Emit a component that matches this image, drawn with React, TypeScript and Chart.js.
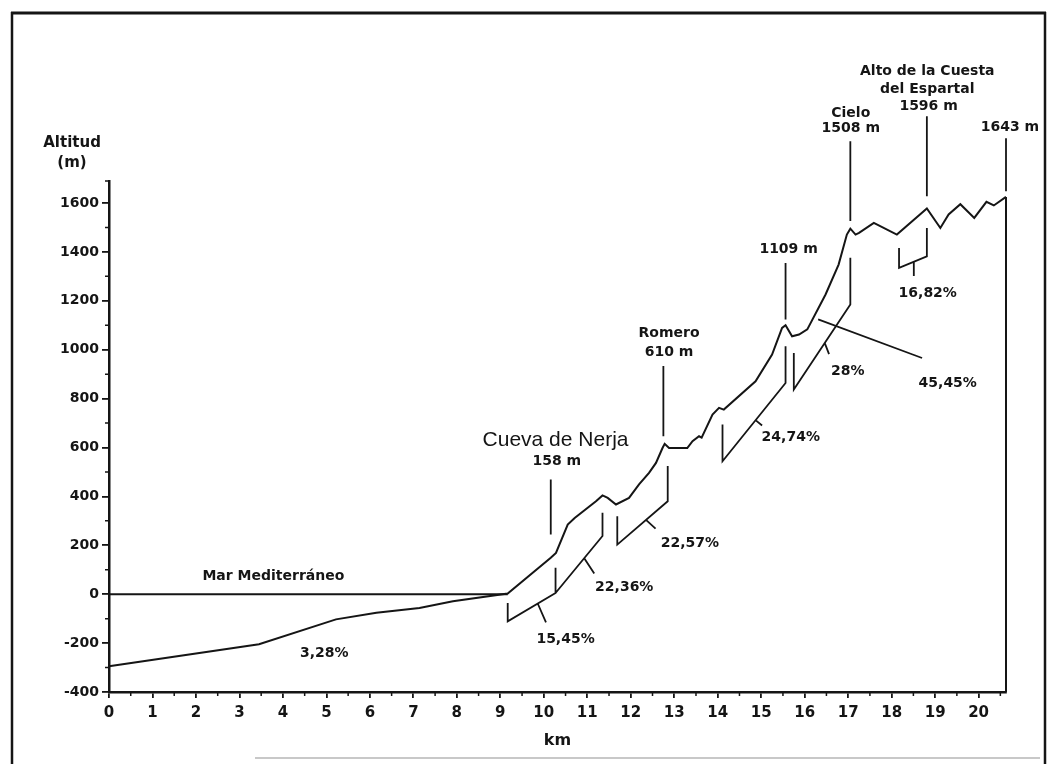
import React, { useEffect, useRef } from 'react';
import { Chart, registerables } from 'chart.js';

Chart.register(...registerables);

// ---- Perfil (km, altitud en m) ----
const profileKm = [0, 3.45, 5.22, 6.15, 7.14, 7.91, 9.17, 10.16, 10.28, 10.55, 10.71, 11.2, 11.35, 11.47, 11.66, 11.96, 12.19, 12.42, 12.58, 12.73, 12.78, 12.88, 13.3, 13.42, 13.57, 13.63, 13.88, 14.03, 14.14, 14.87, 15.25, 15.48, 15.56, 15.71, 15.87, 16.06, 16.48, 16.78, 16.97, 17.05, 17.17, 17.25, 17.59, 18.12, 18.81, 19.12, 19.31, 19.58, 19.9, 20.18, 20.35, 20.63];
const profileAlt = [-295, -205, -103, -76, -56, -29, 3, 149, 169, 285, 312, 380, 404, 394, 367, 394, 449, 496, 537, 598, 615, 598, 598, 626, 646, 640, 735, 762, 755, 871, 980, 1089, 1100, 1055, 1062, 1083, 1226, 1348, 1471, 1495, 1471, 1478, 1519, 1471, 1578, 1498, 1553, 1595, 1539, 1605, 1590, 1625];

// Nivel del mar
const seaKm = [0, 9.17];
const seaAlt = [0, 0];

// Cierre vertical del perfil
const closeKm = [20.63, 20.63];
const closeAlt = [-400, 1625];

// Líneas guía de las cotas (null = corte)
const leaderKm = [10.16, 10.16, null, 12.75, 12.75, null, 15.56, 15.56, null, 17.05, 17.05, null, 18.81, 18.81, null, 20.63, 20.63];
const leaderAlt = [469, 244, null, 933, 646, null, 1355, 1124, null, 1853, 1526, null, 1955, 1628, null, 1865, 1648];

// Corchetes de pendiente (null = corte)
const slopeKm = [9.17, 9.17, 10.27, 10.27, null, 10.27, 11.35, 11.35, null, 9.86, 10.05, null, 10.93, 11.16, null,
  11.69, 11.69, 12.85, 12.85, null, 12.35, 12.57, null,
  14.11, 14.11, 15.56, 15.56, null, 14.87, 15.02, null,
  15.75, 15.75, 17.05, 17.05, null, 16.46, 16.56, null,
  16.31, 18.7, null,
  18.17, 18.17, 18.81, 18.81, null, 18.51, 18.51];
const slopeAlt = [-36, -111, 5, 108, null, 5, 238, 333, null, -38, -115, null, 147, 85, null,
  319, 203, 380, 524, null, 304, 268, null,
  694, 544, 864, 1014, null, 712, 690, null,
  987, 837, 1185, 1376, null, 1028, 982, null,
  1124, 966, null,
  1416, 1335, 1382, 1498, null, 1360, 1301];

// Textos
const labelTexts = ['Mar Mediterráneo', '3,28%', '15,45%', '22,36%', '22,57%', '24,74%', '28%', '45,45%', '16,82%',
  'Cueva de Nerja', '158 m', 'Romero', '610 m', '1109 m', 'Cielo', '1508 m',
  'Alto de la Cuesta', 'del Espartal', '1596 m', '1643 m', 'Altitud', '(m)'];
const labelKm = [3.78, 4.95, 10.5, 11.85, 13.36, 15.68, 16.99, 19.29, 18.83,
  10.27, 10.3, 12.88, 12.88, 15.63, 17.06, 17.06,
  18.82, 18.82, 18.85, 20.72, -0.85, -0.85];
const labelAlt = [72, -243, -186, 28, 206, 641, 910, 861, 1230,
  628, 542, 1065, 988, 1412, 1968, 1907,
  2140, 2066, 1994, 1910, 1845, 1765];

// Ejes
const xMin = 0;
const xMax = 20.63;
const yMin = -400;
const yMax = 1690;
const xMinorTicks = [0.5, 1.5, 2.5, 3.5, 4.5, 5.5, 6.5, 7.5, 8.5, 9.5, 10.5, 11.5, 12.5, 13.5, 14.5, 15.5, 16.5, 17.5, 18.5, 19.5, 20.5];
const yMinorTicks = [-300, -100, 100, 300, 500, 700, 900, 1100, 1300, 1500, 1690];

const toPoints = (xs: (number | null)[], ys: (number | null)[]) => {
  let last = 0;
  return xs.map((x, i) => {
    if (x !== null) last = x;
    return { x: last, y: ys[i] };
  });
};

const INK = '#151515';
const BOLD = 'bold 14px "DejaVu Sans"';

const decorPlugin = {
  id: 'decor',
  beforeDraw(chart: any) {
    const { ctx } = chart;
    ctx.save();
    ctx.fillStyle = '#ffffff';
    ctx.fillRect(0, 0, chart.width, chart.height);
    ctx.strokeStyle = INK;
    ctx.lineWidth = 3;
    ctx.beginPath();
    ctx.moveTo(11, 13);
    ctx.lineTo(1046, 13);
    ctx.stroke();
    ctx.lineWidth = 2.5;
    ctx.beginPath();
    ctx.moveTo(12, 12);
    ctx.lineTo(12, 764);
    ctx.moveTo(1045, 12);
    ctx.lineTo(1045, 764);
    ctx.stroke();
    ctx.strokeStyle = '#c8c8c8';
    ctx.lineWidth = 2;
    ctx.beginPath();
    ctx.moveTo(255, 758);
    ctx.lineTo(1040, 758);
    ctx.stroke();
    ctx.restore();
  },
  afterDraw(chart: any) {
    const { ctx } = chart;
    const xs = chart.scales.x;
    const ys = chart.scales.y;
    ctx.save();
    // minor ticks
    ctx.strokeStyle = INK;
    ctx.lineWidth = 1.5;
    ctx.beginPath();
    const yb = ys.getPixelForValue(yMin);
    xMinorTicks.forEach((v) => {
      const px = xs.getPixelForValue(v);
      ctx.moveTo(px, yb);
      ctx.lineTo(px, yb + 4);
    });
    const xl = xs.getPixelForValue(xMin);
    yMinorTicks.forEach((v) => {
      const py = ys.getPixelForValue(v);
      ctx.moveTo(xl - 4, py);
      ctx.lineTo(xl, py);
    });
    ctx.stroke();
    // labels
    ctx.fillStyle = INK;
    ctx.textAlign = 'center';
    ctx.textBaseline = 'middle';
    labelTexts.forEach((t, i) => {
      if (t === 'Cueva de Nerja') ctx.font = '21px "Liberation Sans"';
      else if (t === 'Altitud' || t === '(m)') ctx.font = 'bold 15px "DejaVu Sans"';
      else ctx.font = BOLD;
      ctx.fillText(t, xs.getPixelForValue(labelKm[i]), ys.getPixelForValue(labelAlt[i]));
    });
    ctx.restore();
  },
};

export default function App() {
  const ref = useRef<HTMLCanvasElement>(null);
  useEffect(() => {
    const canvas = ref.current;
    if (!canvas) return;
    const lineDs = (label: string, pts: any[], width: number) => ({
      label,
      data: pts,
      borderColor: INK,
      borderWidth: width,
      pointRadius: 0,
      tension: 0,
      fill: false,
      spanGaps: false,
      clip: false as any,
    });
    const chart = new Chart(canvas, {
      type: 'line',
      data: {
        datasets: [
          lineDs('Perfil', toPoints(profileKm, profileAlt), 2),
          lineDs('Nivel del mar', toPoints(seaKm, seaAlt), 2),
          lineDs('Cierre', toPoints(closeKm, closeAlt), 2),
          lineDs('Cotas', toPoints(leaderKm, leaderAlt), 1.8),
          lineDs('Pendientes', toPoints(slopeKm, slopeAlt), 1.8),
        ],
      },
      options: {
        animation: false,
        responsive: false,
        layout: { padding: { top: 181, right: 45, bottom: 0, left: 0 } },
        plugins: { legend: { display: false }, tooltip: { enabled: false } },
        scales: {
          x: {
            type: 'linear',
            min: xMin,
            max: xMax,
            afterFit: (s: any) => { s.height = 82; },
            grid: { drawOnChartArea: false, drawTicks: true, tickLength: 6, color: INK, lineWidth: 1.8 },
            border: { display: true, color: INK, width: 2.5 },
            ticks: {
              stepSize: 1,
              includeBounds: false,
              autoSkip: false,
              maxRotation: 0,
              padding: 6,
              color: INK,
              font: { family: 'DejaVu Sans', weight: 'bold', size: 15 },
              callback: (v: any) => String(v),
            },
            title: {
              display: true,
              text: 'km',
              color: INK,
              font: { family: 'DejaVu Sans', weight: 'bold', size: 16 },
              padding: { top: 0, bottom: 24 },
            },
          },
          y: {
            type: 'linear',
            min: yMin,
            max: yMax,
            afterFit: (s: any) => { s.width = 109; },
            grid: { drawOnChartArea: false, drawTicks: true, tickLength: 7, color: INK, lineWidth: 1.8 },
            border: { display: true, color: INK, width: 2.5 },
            ticks: {
              stepSize: 200,
              includeBounds: false,
              padding: 3,
              color: INK,
              font: { family: 'DejaVu Sans', weight: 'bold', size: 14 },
              callback: (v: any) => String(v),
            },
          },
        },
      } as any,
      plugins: [decorPlugin],
    });
    return () => chart.destroy();
  }, []);
  return (
    <div style={{ position: 'absolute', left: 0, top: 0, width: 1051, height: 774 }}>
      <canvas ref={ref} width={1051} height={774} style={{ display: 'block' }} />
    </div>
  );
}
